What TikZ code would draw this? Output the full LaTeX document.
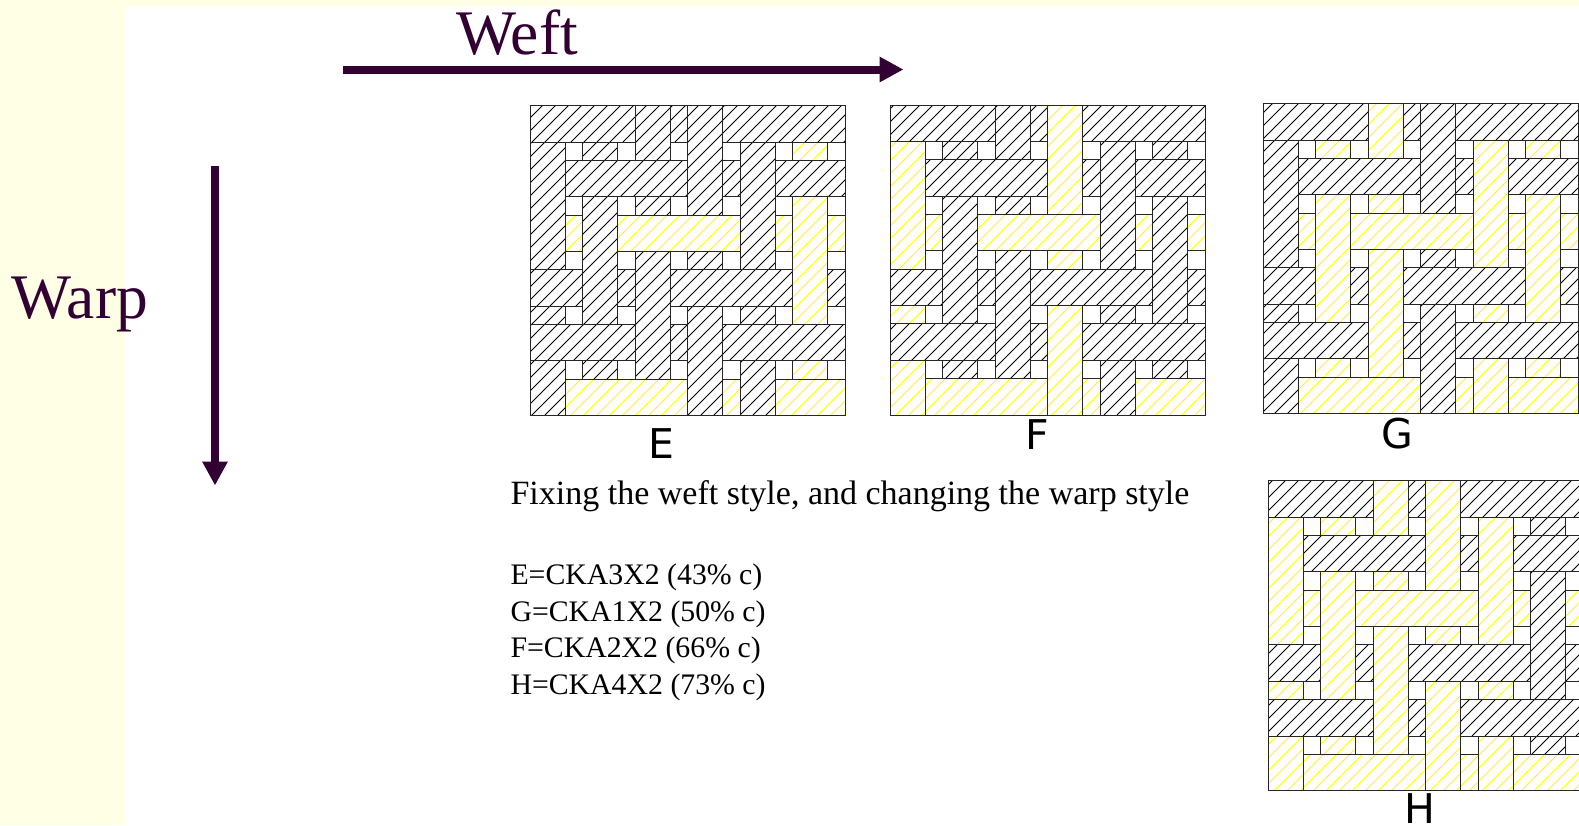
\documentclass[tikz,border=0pt]{standalone}
\usepackage{fontspec}
\usepackage{graphicx}
\usetikzlibrary{arrows.meta}
\setmainfont{Liberation Serif}
\newfontfamily\labelfont{DejaVu Sans}
\definecolor{bgyellow}{HTML}{FFFFE5}
\definecolor{plum}{HTML}{330033}
\definecolor{hatchY}{HTML}{FFFF00}
\definecolor{hatchK}{HTML}{000000}
\tikzset{
  hatchline/.style={line width=0.8pt},
  edgeline/.style={draw=black!85,line width=1pt},
  bigarrow/.style={plum,line width=8pt,-{Triangle[length=24pt,width=24pt]}},
  bigtext/.style={anchor=base west,inner sep=0pt,outer sep=0pt,text=plum,font=\fontsize{63.5}{63.5}\selectfont},
  headtext/.style={anchor=base west,inner sep=0pt,outer sep=0pt,text=black,font=\fontsize{34}{34}\selectfont},
  listtext/.style={anchor=base west,inner sep=0pt,outer sep=0pt,text=black,font=\fontsize{29.8}{29.8}\selectfont},
  paneltext/.style={anchor=base,inner sep=0pt,outer sep=0pt,text=black,font=\labelfont\fontsize{41}{41}\selectfont}
}
\newcommand\pc[5]{%
  \pgfmathsetmacro\xa{\px+#1*17.5}%
  \pgfmathsetmacro\xb{\px+#3*17.5}%
  \pgfmathsetmacro\ya{\py+#2*18.235}%
  \pgfmathsetmacro\yb{\py+#4*18.235}%
  \pgfmathtruncatemacro\ka{floor((\xa+\ya-\ph)/13)}%
  \pgfmathtruncatemacro\kb{ceil((\xb+\yb-\ph)/13)}%
  \begin{scope}
    \clip (\xa,\ya) rectangle (\xb,\yb);
    \foreach \k in {\ka,...,\kb}{%
      \pgfmathsetmacro\s{\k*13+\ph}%
      \draw[hatchline,color=hatch#5] (\s-\ya,\ya) -- (\s-\yb,\yb);
    }
  \end{scope}
  \draw[edgeline] (\xa,\ya) rectangle (\xb,\yb);
}
% #1,#2 = top-left; #3 = hatch phase; #4..#9 = colours of the six warp strips
\newcommand\panel[9]{%
  \def\px{#1}\def\py{#2}\def\ph{#3}%
  % weft strips
  \pc{0}{0}{6}{2}{K}\pc{8}{0}{9}{2}{K}\pc{11}{0}{18}{2}{K}%
  \pc{2}{3}{9}{5}{K}\pc{11}{3}{12}{5}{K}\pc{14}{3}{18}{5}{K}%
  \pc{2}{6}{3}{8}{Y}\pc{5}{6}{12}{8}{Y}\pc{14}{6}{15}{8}{Y}\pc{17}{6}{18}{8}{Y}%
  \pc{0}{9}{3}{11}{K}\pc{5}{9}{6}{11}{K}\pc{8}{9}{15}{11}{K}\pc{17}{9}{18}{11}{K}%
  \pc{0}{12}{6}{14}{K}\pc{8}{12}{9}{14}{K}\pc{11}{12}{18}{14}{K}%
  \pc{2}{15}{9}{17}{Y}\pc{11}{15}{12}{17}{Y}\pc{14}{15}{18}{17}{Y}%
  % warp strips
  \pc{0}{2}{2}{9}{#4}\pc{0}{11}{2}{12}{#4}\pc{0}{14}{2}{17}{#4}%
  \pc{3}{2}{5}{3}{#5}\pc{3}{5}{5}{12}{#5}\pc{3}{14}{5}{15}{#5}%
  \pc{6}{0}{8}{3}{#6}\pc{6}{5}{8}{6}{#6}\pc{6}{8}{8}{15}{#6}%
  \pc{9}{0}{11}{6}{#7}\pc{9}{8}{11}{9}{#7}\pc{9}{11}{11}{17}{#7}%
  \pc{12}{2}{14}{9}{#8}\pc{12}{11}{14}{12}{#8}\pc{12}{14}{14}{17}{#8}%
  \pc{15}{2}{17}{3}{#9}\pc{15}{5}{17}{12}{#9}\pc{15}{14}{17}{15}{#9}%
  \draw[edgeline] (\px,\py) rectangle ({\px+18*17.5},{\py+17*18.235});
}
\begin{document}
\begin{tikzpicture}[x=1pt,y=-1pt]
  \useasboundingbox (0,0) rectangle (1579,825);
  \fill[bgyellow] (0,0) rectangle (1579,825);
  \fill[white] (126,6) rectangle (1579,825);

  \coordinate (weftstart) at (343,69.5);
  \coordinate (weftend) at (903.5,69.5);
  \coordinate (warpstart) at (215,166);
  \coordinate (warpend) at (215,485.5);
  \draw[bigarrow] (weftstart) -- (weftend);
  \draw[bigarrow] (warpstart) -- (warpend);

  \node[bigtext] (weft) at (456,54.5) {Weft};
  \node[bigtext] (warp) at (12,318) {Warp};

  \panel{530}{105.7}{11}{K}{K}{K}{K}{K}{Y}
  \panel{890}{105}{11}{Y}{K}{K}{Y}{K}{K}
  \panel{1263.3}{103.7}{11}{K}{Y}{Y}{K}{Y}{Y}
  \panel{1268}{480.7}{11}{Y}{Y}{Y}{Y}{Y}{K}

  \node[paneltext] (labelE) at (661,458) {E};
  \node[paneltext] (labelF) at (1037.5,449) {F};
  \node[paneltext] (labelG) at (1397,448) {G};
  \node[paneltext] (labelH) at (1420,823) {H};

  \node[headtext] (head) at (510.5,504) {Fixing the weft style, and changing the warp style};
  \node[listtext] (l1) at (510.5,584) {E=CKA3X2 (43\% c)};
  \node[listtext] (l2) at (510.5,621) {G=CKA1X2 (50\% c)};
  \node[listtext] (l3) at (510.5,657.5) {F=CKA2X2 (66\% c)};
  \node[listtext] (l4) at (510.5,694.5) {H=CKA4X2 (73\% c)};
\end{tikzpicture}
\end{document}
